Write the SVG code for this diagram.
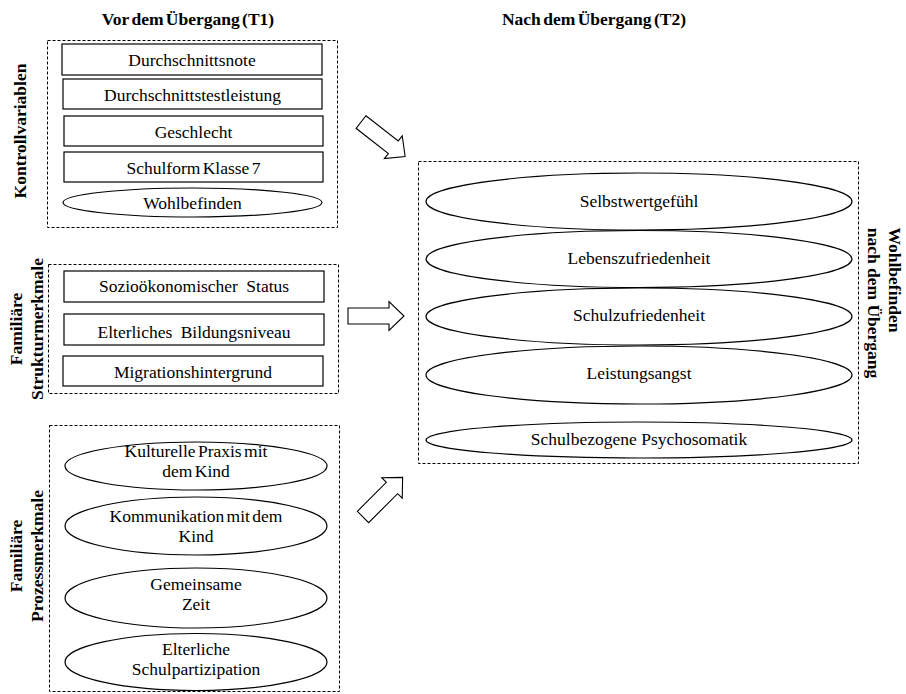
<svg xmlns="http://www.w3.org/2000/svg" width="906" height="694" viewBox="0 0 906 694">
<style>
  .box { fill: #fff; stroke: #000; stroke-width: 1.2; }
  .dash { fill: none; stroke: #000; stroke-width: 1; stroke-dasharray: 3 2; }
  .arr { fill: #fff; stroke: #000; stroke-width: 1.1; stroke-linejoin: miter; }
</style>
<defs>
  <polygon id="arrowShape" points="0,-8 41,-8 41,-14.5 56,0 41,14.5 41,8 0,8"/>
</defs>
<rect width="906" height="694" fill="#fff"/>

<text font-family="Liberation Serif" font-size="17.5" font-weight="bold" text-anchor="middle" word-spacing="-2" x="188" y="25">Vor dem Übergang (T1)</text>
<text font-family="Liberation Serif" font-size="17.5" font-weight="bold" text-anchor="middle" word-spacing="-2" x="594" y="25">Nach dem Übergang (T2)</text>

<g id="kontrollvariablen">
  <rect class="dash" x="47.5" y="40.5" width="290" height="187"/>
  <text font-family="Liberation Serif" font-size="17.5" font-weight="bold" text-anchor="middle" transform="translate(26,131) rotate(-90)">Kontrollvariablen</text>
  <g id="n-durchschnittsnote"><rect class="box" x="62" y="44" width="260" height="31"/><text font-family="Liberation Serif" font-size="17.5" text-anchor="middle" x="192" y="66">Durchschnittsnote</text></g>
  <g id="n-testleistung"><rect class="box" x="63" y="79" width="259" height="30"/><text font-family="Liberation Serif" font-size="17.5" text-anchor="middle" x="192.5" y="101">Durchschnittstestleistung</text></g>
  <g id="n-geschlecht"><rect class="box" x="64" y="116" width="259" height="30"/><text font-family="Liberation Serif" font-size="17.5" text-anchor="middle" x="193.5" y="137.5">Geschlecht</text></g>
  <g id="n-schulform"><rect class="box" x="64" y="152" width="259" height="30"/><text font-family="Liberation Serif" font-size="17.5" text-anchor="middle" x="193.5" y="174" word-spacing="-2">Schulform Klasse 7</text></g>
  <g id="n-wohlbefinden-t1"><ellipse class="box" cx="192.5" cy="202.5" rx="129.5" ry="14.5"/><text font-family="Liberation Serif" font-size="17.5" text-anchor="middle" x="192.5" y="208.5">Wohlbefinden</text></g>
</g>

<g id="strukturmerkmale">
  <rect class="dash" x="48.5" y="264.5" width="290" height="129"/>
  <text font-family="Liberation Serif" font-size="17.5" font-weight="bold" text-anchor="middle" transform="translate(22,329) rotate(-90)">Familiäre</text>
  <text font-family="Liberation Serif" font-size="17.5" font-weight="bold" text-anchor="middle" transform="translate(43,329) rotate(-90)">Strukturmerkmale</text>
  <g id="n-ses"><rect class="box" x="64" y="271" width="260" height="31"/><text font-family="Liberation Serif" font-size="17.5" text-anchor="middle" x="194" y="292" word-spacing="4">Sozioökonomischer Status</text></g>
  <g id="n-bildung"><rect class="box" x="64" y="314" width="260" height="31"/><text font-family="Liberation Serif" font-size="17.5" text-anchor="middle" x="194" y="337.5" word-spacing="4">Elterliches Bildungsniveau</text></g>
  <g id="n-migration"><rect class="box" x="63" y="356" width="260" height="30"/><text font-family="Liberation Serif" font-size="17.5" text-anchor="middle" x="193" y="378">Migrationshintergrund</text></g>
</g>

<g id="prozessmerkmale">
  <rect class="dash" x="49.5" y="425.5" width="290" height="266"/>
  <text font-family="Liberation Serif" font-size="17.5" font-weight="bold" text-anchor="middle" transform="translate(22,556) rotate(-90)">Familiäre</text>
  <text font-family="Liberation Serif" font-size="17.5" font-weight="bold" text-anchor="middle" transform="translate(43,556) rotate(-90)">Prozessmerkmale</text>
  <g id="n-kultur"><ellipse class="box" cx="196" cy="466" rx="131" ry="24"/><text font-family="Liberation Serif" font-size="17.5" text-anchor="middle" x="196" y="457" word-spacing="-2">Kulturelle Praxis mit</text><text font-family="Liberation Serif" font-size="17.5" text-anchor="middle" x="196" y="477" word-spacing="-2">dem Kind</text></g>
  <g id="n-kommunikation"><ellipse class="box" cx="196" cy="526" rx="131" ry="29"/><text font-family="Liberation Serif" font-size="17.5" text-anchor="middle" x="196" y="522" word-spacing="-2">Kommunikation mit dem</text><text font-family="Liberation Serif" font-size="17.5" text-anchor="middle" x="196" y="542">Kind</text></g>
  <g id="n-zeit"><ellipse class="box" cx="196" cy="598" rx="131" ry="30"/><text font-family="Liberation Serif" font-size="17.5" text-anchor="middle" x="196" y="590">Gemeinsame</text><text font-family="Liberation Serif" font-size="17.5" text-anchor="middle" x="196" y="610">Zeit</text></g>
  <g id="n-partizipation"><ellipse class="box" cx="196" cy="662" rx="131" ry="28.5"/><text font-family="Liberation Serif" font-size="17.5" text-anchor="middle" x="196" y="655">Elterliche</text><text font-family="Liberation Serif" font-size="17.5" text-anchor="middle" x="196" y="675">Schulpartizipation</text></g>
</g>

<g id="wohlbefinden-t2">
  <rect class="dash" x="418.5" y="161.5" width="440" height="302"/>
  <text font-family="Liberation Serif" font-size="17.5" font-weight="bold" text-anchor="middle" transform="translate(889,280) rotate(90)">Wohlbefinden</text>
  <text font-family="Liberation Serif" font-size="17.5" font-weight="bold" text-anchor="middle" transform="translate(868,303) rotate(90)">nach dem Übergang</text>
  <g id="n-selbstwert"><ellipse class="box" cx="639" cy="201.5" rx="213" ry="28.5"/><text font-family="Liberation Serif" font-size="17.5" text-anchor="middle" x="639" y="207">Selbstwertgefühl</text></g>
  <g id="n-lebens"><ellipse class="box" cx="639" cy="259" rx="213" ry="28.5"/><text font-family="Liberation Serif" font-size="17.5" text-anchor="middle" x="639" y="264">Lebenszufriedenheit</text></g>
  <g id="n-schulzuf"><ellipse class="box" cx="639" cy="316.5" rx="213" ry="28.5"/><text font-family="Liberation Serif" font-size="17.5" text-anchor="middle" x="639" y="321">Schulzufriedenheit</text></g>
  <g id="n-angst"><ellipse class="box" cx="639" cy="375" rx="213" ry="29"/><text font-family="Liberation Serif" font-size="17.5" text-anchor="middle" x="639" y="379">Leistungsangst</text></g>
  <g id="n-psychosomatik"><ellipse class="box" cx="639" cy="440" rx="213" ry="18"/><text font-family="Liberation Serif" font-size="17.5" text-anchor="middle" x="639" y="444.5">Schulbezogene Psychosomatik</text></g>
</g>

<g id="connectors">
  <use href="#arrowShape" class="arr" transform="translate(361,122) rotate(38)"/>
  <use href="#arrowShape" class="arr" transform="translate(348,316)"/>
  <use href="#arrowShape" class="arr" transform="translate(363,517) rotate(-45)"/>
</g>
</svg>
